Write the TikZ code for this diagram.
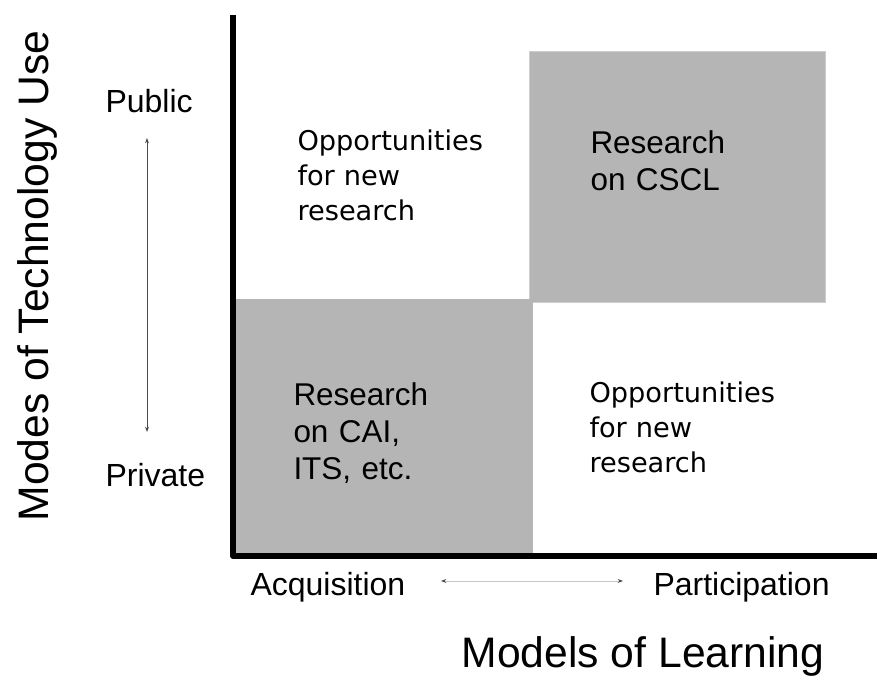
\documentclass[tikz,border=0pt]{standalone}
\usepackage{fontspec}
\setmainfont{Liberation Sans}
\newfontfamily\widefont{DejaVu Sans}
\usetikzlibrary{arrows.meta}

\definecolor{cellgray}{RGB}{181,181,181}
\definecolor{celledge}{RGB}{205,205,205}
\tikzset{every picture/.style={line width=0.75pt}}
\tikzset{
  axislabel/.style={anchor=base west, inner sep=0pt, font=\fontsize{24}{28}\selectfont},
  axistitle/.style={anchor=base, inner sep=0pt, font=\fontsize{32}{37}\selectfont},
  cellgray text/.style={anchor=base west, inner sep=0pt, text width=200pt, align=left, font=\fontsize{23.6}{27.5}\selectfont},
  cellwhite text/.style={anchor=base west, inner sep=0pt, text width=200pt, align=left, font=\widefont\fontsize{20.4}{25.9}\selectfont}
}

\begin{document}
\begin{tikzpicture}[x=0.75pt,y=0.75pt,yscale=-1,xscale=1,>={Stealth[length=4pt,width=3pt]}]
\useasboundingbox (0,0) rectangle (879,677);

%Shape: Rectangle
\draw [color=celledge, fill=cellgray] (529,52) rectangle (825,303) ;
%Shape: Rectangle
\fill [cellgray] (233,299) rectangle (533,553) ;

%Straight Lines (axes)
\draw [line width=4.5pt, line join=round] (233,15) -- (233,556) -- (877,556) ;

%Labels on the axes
\node [axislabel] (pub) at (105,113) {Public} ;
\node [axislabel] (priv) at (105,486) {Private} ;
\node [axislabel] (acq) at (250,595) {Acquisition} ;
\node [axislabel] (part) at (653,595) {Participation} ;
\node [axistitle, rotate=90] (use) at (48,276) {Modes of Technology Use} ;
\node [axistitle, anchor=base west] (learn) at (461,667) {Models of Learning} ;

\coordinate (up) at (147,138) ;
\coordinate (down) at (147,432) ;
\coordinate (lft) at (441,581) ;
\coordinate (rgt) at (623,581) ;
%Straight Lines
\draw [<->, color=black!70] (up) -- (down) ;
%Straight Lines
\draw [{Stealth[length=4pt,width=3pt,color=black!70]}-{Stealth[length=4pt,width=3pt,color=black!70]}, color=black!22] (lft) -- (rgt) ;

%Cells
\node [cellwhite text] (opp1) at (297,151) {Opportunities\\for new\\research} ;
\node [cellgray text] (cscl) at (590,154) {Research\\on CSCL} ;
\node [cellgray text] (cai) at (293,406) {Research\\on CAI,\\ITS, etc.} ;
\node [cellwhite text] (opp2) at (589,403) {Opportunities\\for new\\research} ;
\end{tikzpicture}
\end{document}
